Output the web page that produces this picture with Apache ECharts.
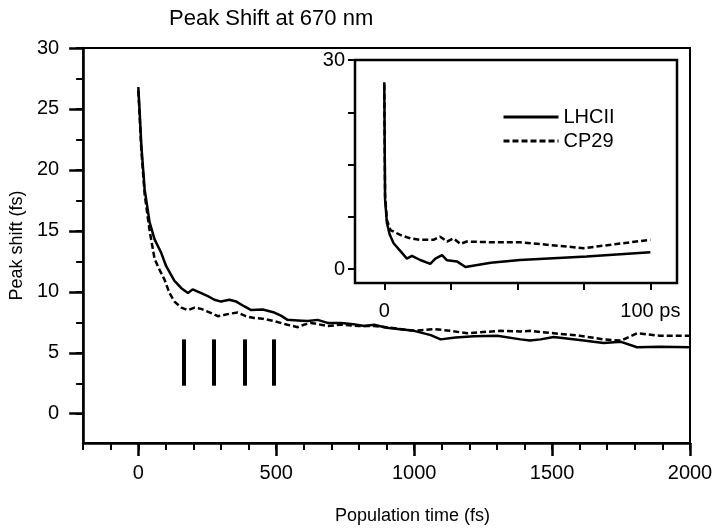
<!DOCTYPE html>
<html><head><meta charset="utf-8">
<script src="https://cdn.jsdelivr.net/npm/echarts@6/dist/echarts.min.js"></script>
<style>html,body{margin:0;padding:0;background:#fff}#c{width:720px;height:531px}</style>
</head><body><div id="c"></div>
<script>
// Main panel (population time in fs)
const lhciiMain = [[0,26.8],[5,24.7],[11,22],[23,18.4],[41,15.7],[59,14.3],[83,13.2],[101,12.1],[131,10.9],[156,10.3],[180,9.9],[197,10.2],[228,9.9],[252,9.65],[276,9.35],[300,9.2],[330,9.35],[355,9.2],[385,8.8],[409,8.5],[451,8.55],[493,8.3],[517,8.05],[541,7.7],[578,7.65],[614,7.6],[650,7.7],[686,7.45],[735,7.45],[780,7.35],[819,7.2],[855,7.3],[900,7.05],[1000,6.8],[1060,6.45],[1096,6.1],[1150,6.25],[1217,6.35],[1301,6.4],[1386,6.1],[1420,6.0],[1458,6.1],[1506,6.3],[1600,6.05],[1687,5.8],[1750,5.9],[1808,5.45],[1892,5.5],[2000,5.45]];
const cp29Main = [[0,26.5],[5,24.3],[11,21.6],[23,18.0],[41,15.0],[59,12.7],[75,11.9],[95,11.0],[113,9.9],[131,9.2],[156,8.7],[180,8.5],[204,8.7],[228,8.6],[260,8.3],[288,8.0],[310,8.1],[330,8.2],[360,8.3],[390,8.0],[420,7.85],[450,7.8],[493,7.6],[540,7.3],[578,7.1],[600,7.3],[626,7.45],[686,7.2],[735,7.3],[800,7.2],[855,7.2],[900,7.1],[1000,6.8],[1072,6.95],[1130,6.8],[1193,6.6],[1250,6.7],[1313,6.8],[1386,6.75],[1422,6.8],[1458,6.7],[1506,6.6],[1600,6.4],[1687,6.1],[1750,6.0],[1808,6.6],[1850,6.5],[1892,6.4],[2000,6.4]];
// Vertical markers
const markerX = [165, 275, 385, 490];
const markerLow = 2.3, markerHigh = 6.1;
// Inset (population time in ps)
const lhciiInset = [[0,26.8],[0.3,10],[1,6.6],[2,5.0],[3.5,3.7],[6,2.6],[8.5,1.5],[10.4,1.9],[13.5,1.3],[17.3,0.75],[19.2,1.5],[21.7,2.0],[23.6,1.25],[27.3,1.1],[30.5,0.3],[40,0.9],[51,1.3],[76,1.8],[100,2.4]];
const cp29Inset = [[0,26.5],[0.3,10.5],[1,7.0],[2.3,5.6],[6,4.9],[9.8,4.4],[13.5,4.2],[18.5,4.2],[21,4.65],[23.6,3.95],[26,4.4],[28.6,3.6],[31,3.95],[40,3.85],[51,3.85],[75,3.0],[100,4.2]];
// Tick values
const mainXMajor = [0,500,1000,1500,2000];
const mainXMinor = [-200,-100,0,100,200,300,400,500,600,700,800,900,1000,1100,1200,1300,1400,1500,1600,1700,1800,1900,2000];
const mainYMajor = [0,5,10,15,20,25,30];
const mainYMinor = [0,2.5,5,7.5,10,12.5,15,17.5,20,22.5,25,27.5,30];
const insetXTicks = [0,25,50,75,100];
const insetXLabels = [0,100];
const insetYTicks = [0,7.5,15,22.5,30];
const insetYLabels = [0,30];

const FONT = 'Liberation Sans, Arial, Helvetica, sans-serif';
const K = '#000';
const chart = echarts.init(document.getElementById('c'), null, {renderer:'canvas'});
const axLine = {show:true, onZero:false, lineStyle:{color:K, width:2.5}};
const noLine = {show:false, onZero:false};
chart.setOption({
  animation:false,
  backgroundColor:'#fff',
  title:{text:'Peak Shift at 670 nm', left:164, top:3, textStyle:{fontFamily:FONT, fontSize:22, fontWeight:'normal', color:K}},
  legend:{data:['LHCII','CP29'], orient:'vertical', left:497, top:101, z:20, itemWidth:55, itemHeight:14, itemGap:2,
    itemStyle:{opacity:0, color:'transparent', borderColor:'transparent', borderWidth:0},
    lineStyle:{width:3},
    textStyle:{fontFamily:FONT, fontSize:20, color:K, lineHeight:22}, inactiveColor:K},
  grid:[
    {left:82, right:30, top:48, bottom:88, show:true, borderColor:K, borderWidth:2, backgroundColor:'transparent'},
    {left:355, top:60, width:322, height:223, show:true, borderColor:K, borderWidth:2.5, backgroundColor:'#fff', z:5}
  ],
  xAxis:[
    {type:'value', gridIndex:0, min:-200, max:2000, position:'bottom', axisLine:axLine, splitLine:{show:false},
      axisTick:{show:true, customValues:mainXMinor, length:7, lineStyle:{color:K, width:2}},
      axisLabel:{show:false}},
    {type:'value', gridIndex:0, min:-200, max:2000, position:'bottom', axisLine:noLine, splitLine:{show:false},
      axisTick:{show:true, customValues:mainXMajor, length:13, lineStyle:{color:K, width:2.5}},
      axisLabel:{show:true, customValues:mainXMajor, margin:20, fontFamily:FONT, fontSize:20, color:K, formatter:v=>String(v)},
      name:'Population time (fs)', nameLocation:'middle', nameGap:64,
      nameTextStyle:{fontFamily:FONT, fontSize:18, color:K, padding:[0,0,0,52]}},
    {type:'value', gridIndex:1, min:-11, max:110, position:'bottom', axisLine:noLine, splitLine:{show:false},
      axisTick:{show:true, customValues:insetXTicks, length:7, lineStyle:{color:K, width:2}},
      axisLabel:{show:true, customValues:insetXLabels, margin:18, fontFamily:FONT, fontSize:20, color:K,
        formatter:v=> v===100 ? '100 ps' : String(v)}}
  ],
  yAxis:[
    {type:'value', gridIndex:0, min:-2.4, max:30, position:'left', axisLine:axLine, splitLine:{show:false},
      axisTick:{show:true, customValues:mainYMinor, length:7, lineStyle:{color:K, width:2}},
      axisLabel:{show:false}},
    {type:'value', gridIndex:0, min:-2.4, max:30, position:'left', axisLine:noLine, splitLine:{show:false},
      axisTick:{show:true, customValues:mainYMajor, length:14, lineStyle:{color:K, width:2.5}},
      axisLabel:{show:true, customValues:mainYMajor, margin:24, fontFamily:FONT, fontSize:20, color:K, formatter:v=>String(v)},
      name:'Peak shift (fs)', nameLocation:'middle', nameRotate:90, nameGap:56, nameTextStyle:{fontFamily:FONT, fontSize:18, color:K}},
    {type:'value', gridIndex:1, min:-2, max:30, position:'left', axisLine:noLine, splitLine:{show:false},
      axisTick:{show:true, customValues:insetYTicks, length:7, lineStyle:{color:K, width:2}},
      axisLabel:{show:true, customValues:insetYLabels, margin:10, fontFamily:FONT, fontSize:20, color:K}}
  ],
  series:[
    {name:'LHCII', type:'line', xAxisIndex:0, yAxisIndex:0, data:lhciiMain, showSymbol:false, symbol:'none',
      lineStyle:{color:K, width:2.5, type:'solid'}, itemStyle:{color:K}, z:3,
      markLine:{silent:true, symbol:['none','none'], label:{show:false}, lineStyle:{color:K, width:4, type:'solid'},
        data: markerX.map(x=>[{coord:[x,markerLow]},{coord:[x,markerHigh]}])}},
    {name:'CP29', type:'line', xAxisIndex:0, yAxisIndex:0, data:cp29Main, showSymbol:false, symbol:'none',
      lineStyle:{color:K, width:2.5, type:[6,3]}, itemStyle:{color:K}, z:3},
    {name:'LHCII', type:'line', xAxisIndex:2, yAxisIndex:2, data:lhciiInset, showSymbol:false, symbol:'none',
      lineStyle:{color:K, width:2.5, type:'solid'}, itemStyle:{color:K}, z:6},
    {name:'CP29', type:'line', xAxisIndex:2, yAxisIndex:2, data:cp29Inset, showSymbol:false, symbol:'none',
      lineStyle:{color:K, width:2.5, type:[6,3]}, itemStyle:{color:K}, z:6}
  ]
});
</script></body></html>
